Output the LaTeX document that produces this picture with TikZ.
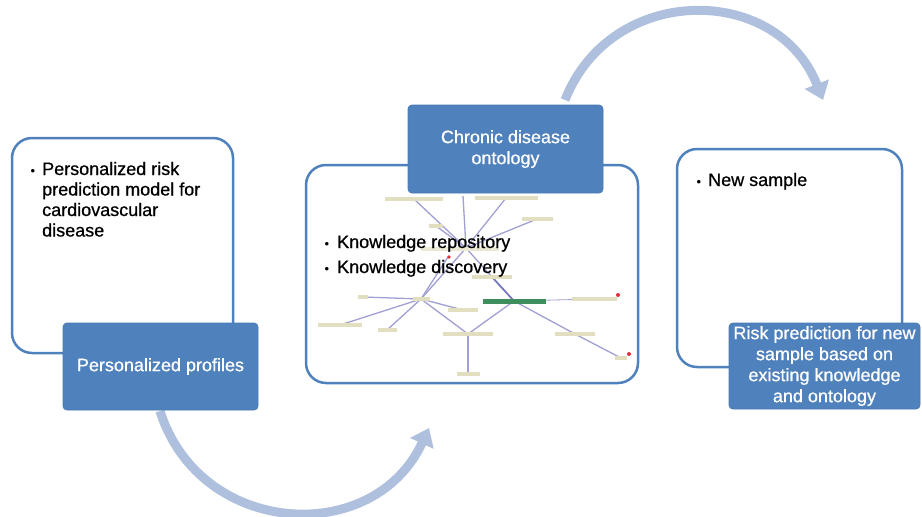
\documentclass[tikz,border=0pt]{standalone}
\usepackage{fontspec}
\setmainfont{Liberation Sans}
\newfontfamily\heavy{Liberation Sans}[FakeBold=0.7]
\usetikzlibrary{arrows.meta}
\definecolor{boxblue}{HTML}{4F81BD}
\definecolor{boxedge}{HTML}{4A7AB3}
\definecolor{arrowblue}{HTML}{AEC0DD}
\definecolor{edgecol}{HTML}{A0A0D4}
\definecolor{edgedark}{HTML}{7777BE}
\definecolor{lblfill}{HTML}{E2DEC0}
\definecolor{greenbar}{HTML}{3F8E5E}
\definecolor{reddot}{HTML}{E0303A}
\begin{document}
\begin{tikzpicture}[x=1pt,y=-1pt,
  outer/.style={draw=boxblue, line width=2.5pt, rounded corners=20pt, fill=white, inner sep=0pt},
  bluebox/.style={draw=boxedge, line width=0.8pt, fill=boxblue, rounded corners=4pt, text=white, align=center, inner sep=2pt, font=\heavy\fontsize{18}{21}\selectfont},
  cyc/.style={line width=9pt, draw=arrowblue, -{Triangle[width=25pt,length=17pt]}},
  body/.style={font=\heavy\fontsize{18}{20.5}\selectfont, inner sep=0pt, align=left, text=black},
  bul/.style={font=\fontsize{13}{16}\selectfont, inner sep=0pt, text=black},
  edge/.style={draw=edgecol, line width=1.3pt},
  lbl/.style={fill=lblfill, inner sep=0pt, minimum height=3.2pt}
]
\useasboundingbox (0,0) rectangle (922,517);

% outline boxes
\node[outer, minimum width=221pt, minimum height=215pt] (lbox) at (122.5,245.5) {};
\node[outer, minimum width=332pt, minimum height=218pt] (mbox) at (472,274) {};
\node[outer, minimum width=225pt, minimum height=218pt] (rbox) at (789.5,258) {};

% ontology graph coordinates
\coordinate (H) at (466,248);
\coordinate (T) at (463,196);
\coordinate (g1) at (414,199);
\coordinate (g2) at (506,198);
\coordinate (g3) at (537,219);
\coordinate (g4) at (436,226);
\coordinate (R1) at (448,257);
\coordinate (g5) at (492,277);
\coordinate (D) at (421,299);
\coordinate (g7) at (363,297);
\coordinate (g8) at (340,325);
\coordinate (g9) at (387,330);
\coordinate (g10) at (463,310);
\coordinate (g11) at (468,334);
\coordinate (g12) at (468,374);
\coordinate (GB) at (514,301);
\coordinate (g13) at (594,299);
\coordinate (g14) at (575,334);
\coordinate (g15) at (621,358);

\draw[edge] (g1) -- (H);
\draw[edge] (T) -- (H);
\draw[edge] (g2) -- (H);
\draw[edge] (g3) -- (H);
\draw[edge] (g4) -- (H);
\draw[edge] (H) -- (D);
\draw[edge] (R1) -- (D);
\draw[edge] (H) -- (g5);
\draw[edge, draw=edgedark, line width=1.8pt] (g5) -- (GB);
\draw[edge] (D) -- (g7);
\draw[edge] (D) -- (g8);
\draw[edge] (D) -- (g9);
\draw[edge] (D) -- (g10);
\draw[edge] (D) -- (g11);
\draw[edge] (GB) -- (g11);
\draw[edge, line width=0.8pt] (GB) -- (g13);
\draw[edge] (GB) -- (g14);
\draw[edge] (g14) -- (g15);
\draw[edge, line width=1.8pt] (g11) -- (g12);

\node[lbl, minimum width=58pt] (l1) at (g1) {};
\node[lbl, minimum width=63pt] (l2) at (g2) {};
\node[lbl, minimum width=31pt] (l3) at (g3) {};
\node[lbl, minimum width=14pt] (l4) at (g4) {};
\node[lbl, minimum width=78pt, fill=lblfill!70] (lh) at (460,249) {};
\node[lbl, minimum width=40pt] (l5) at (g5) {};
\node[lbl, minimum width=17pt] (l6) at (D) {};
\node[lbl, minimum width=10pt] (l7) at (g7) {};
\node[lbl, minimum width=44pt] (l8) at (g8) {};
\node[lbl, minimum width=19pt] (l9) at (g9) {};
\node[lbl, minimum width=30pt] (l10) at (g10) {};
\node[lbl, minimum width=50pt] (l11) at (g11) {};
\node[lbl, minimum width=23pt] (l12) at (g12) {};
\node[fill=greenbar, inner sep=0pt, minimum width=63pt, minimum height=5pt] (gb) at (GB) {};
\node[lbl, minimum width=45pt] (l13) at (g13) {};
\node[lbl, minimum width=40pt] (l14) at (g14) {};
\node[lbl, minimum width=12pt] (l15) at (g15) {};
\fill[reddot] (618,295) circle (2pt);
\fill[reddot] (629,354) circle (2pt);
\fill[reddot] (449,257) circle (1.8pt);

% bullet texts
\node[bul, anchor=base] (b1) at (33,175) {•};
\node[body, anchor=base west] (t1) at (42,236.5) {Personalized risk\\prediction model for\\cardiovascular\\disease};
\node[bul, anchor=base] (b2) at (327,248) {•};
\node[body, anchor=base west] (t2) at (337,248) {Knowledge repository};
\node[bul, anchor=base] (b3) at (327,273) {•};
\node[body, anchor=base west] (t3) at (337,273) {Knowledge discovery};
\node[bul, anchor=base] (b4) at (699,186) {•};
\node[body, anchor=base west] (t4) at (708,186) {New sample};

% cycle arrows
\coordinate (a1s) at (160,411);
\coordinate (a1e) at (429,428);
\coordinate (a2s) at (565,100);
\coordinate (a2e) at (823,100);
\draw[cyc] (a1s) .. controls (199.7,536.9) and (373.6,547.8) .. (a1e);
\draw[cyc] (a2s) .. controls (611,-17) and (777,-17) .. (a2e);

% blue boxes
\node[bluebox, minimum width=195pt, minimum height=87pt] (pp) at (160.5,366.5) {Personalized profiles};
\node[bluebox, minimum width=195pt, minimum height=88pt] (cdo) at (505.5,149) {Chronic disease\\ontology};
\node[bluebox, minimum width=191pt, minimum height=86pt, inner sep=1pt] (rp) at (824.5,366) {Risk prediction for new\\sample based on\\existing knowledge\\and ontology};
\end{tikzpicture}
\end{document}
